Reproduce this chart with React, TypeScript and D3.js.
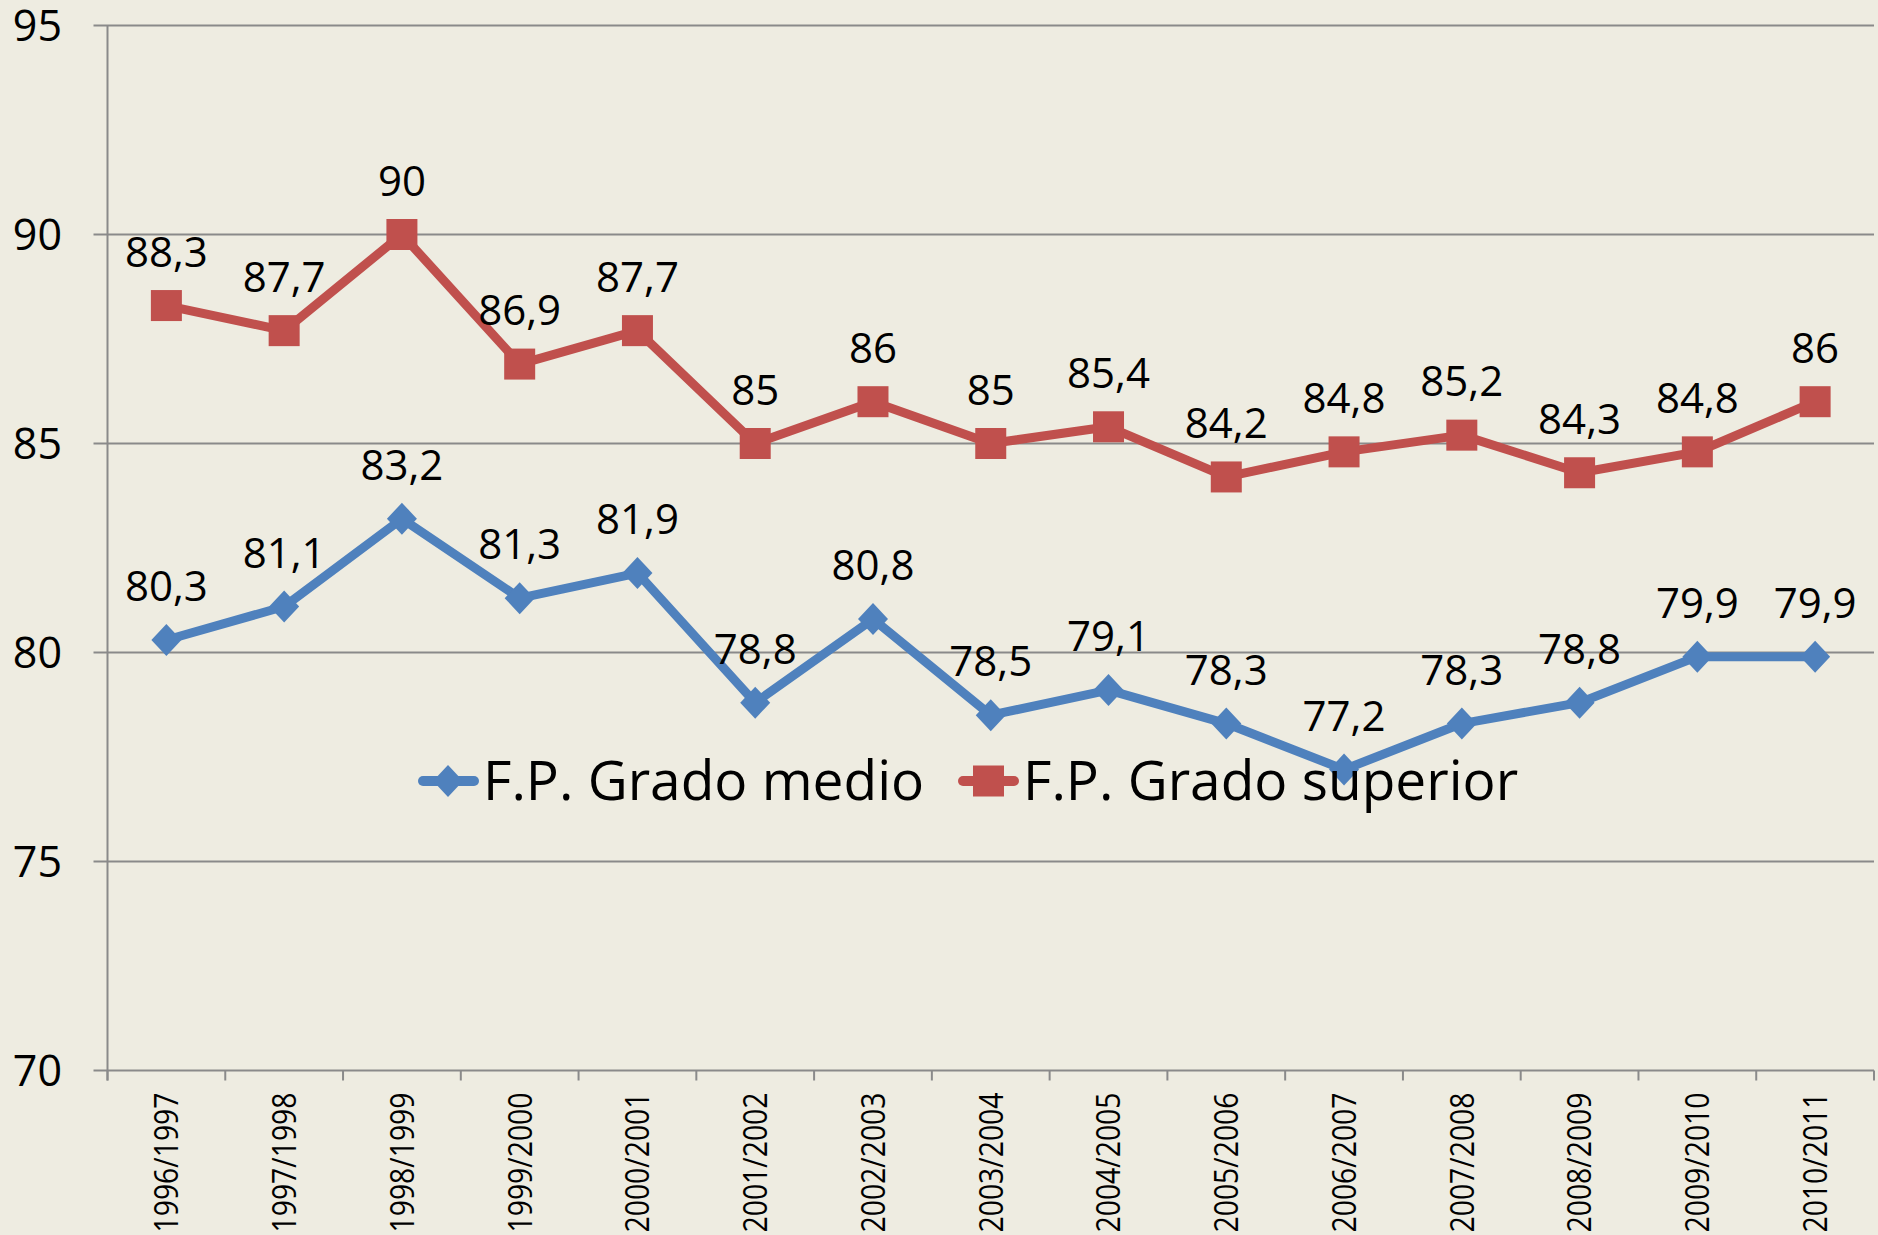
import React, { useEffect, useRef } from 'react';
import * as d3 from 'd3';

const cursos = [
  '1996/1997', '1997/1998', '1998/1999', '1999/2000', '2000/2001',
  '2001/2002', '2002/2003', '2003/2004', '2004/2005', '2005/2006',
  '2006/2007', '2007/2008', '2008/2009', '2009/2010', '2010/2011',
];
const gradoMedio = [80.3, 81.1, 83.2, 81.3, 81.9, 78.8, 80.8, 78.5, 79.1, 78.3, 77.2, 78.3, 78.8, 79.9, 79.9];
const gradoSuperior = [88.3, 87.7, 90, 86.9, 87.7, 85, 86, 85, 85.4, 84.2, 84.8, 85.2, 84.3, 84.8, 86];
const yTicks = [70, 75, 80, 85, 90, 95];
const seriesNames = ['F.P. Grado medio', 'F.P. Grado superior'];

const W = 1878;
const H = 1235;
const BLUE = '#4F81BD';
const RED = '#C0504D';
const GRID = '#8A8A8A';
const FONT = '"Open Sans", sans-serif';

const App = () => {
  const ref = useRef<SVGSVGElement>(null);

  useEffect(() => {
    if (!ref.current) return;
    const svg = d3.select(ref.current);
    svg.selectAll('*').remove();

    const left = 107.5;
    const right = 1874;
    const top = 25.5;
    const bottom = 1070.5;

    svg.append('rect').attr('width', W).attr('height', H).attr('fill', '#EEECE1');

    const x = d3.scaleBand().domain(cursos).range([left, right]).padding(0);
    const cx = (c: string) => (x(c) as number) + x.bandwidth() / 2;
    const y = d3.scaleLinear().domain([70, 95]).range([bottom, top]);

    // rejilla horizontal
    svg.append('g')
      .selectAll('line')
      .data(yTicks)
      .join('line')
      .attr('x1', left - 14)
      .attr('x2', right)
      .attr('y1', d => y(d))
      .attr('y2', d => y(d))
      .attr('stroke', GRID)
      .attr('stroke-width', 2);

    // eje Y
    svg.append('line')
      .attr('x1', left).attr('x2', left)
      .attr('y1', top).attr('y2', bottom + 10)
      .attr('stroke', GRID).attr('stroke-width', 2);

    svg.append('g')
      .selectAll('text')
      .data(yTicks)
      .join('text')
      .attr('x', 62)
      .attr('y', d => y(d))
      .attr('dy', '0.36em')
      .attr('text-anchor', 'end')
      .style('font-family', FONT)
      .style('font-size', '43px')
      .attr('fill', '#000')
      .text(d => d);

    // marcas del eje X
    const edges = cursos.map(c => x(c) as number).concat([right]);
    svg.append('g')
      .selectAll('line')
      .data(edges)
      .join('line')
      .attr('x1', d => d).attr('x2', d => d)
      .attr('y1', bottom).attr('y2', bottom + 10)
      .attr('stroke', GRID).attr('stroke-width', 2);

    svg.append('g')
      .selectAll('text')
      .data(cursos)
      .join('text')
      .attr('transform', d => `translate(${cx(d)}, ${bottom + 22}) rotate(-90)`)
      .attr('dy', '0.36em')
      .attr('text-anchor', 'end')
      .attr('textLength', 140)
      .attr('lengthAdjust', 'spacingAndGlyphs')
      .style('font-family', FONT)
      .style('font-size', '33px')
      .attr('fill', '#000')
      .text(d => d);

    const line = d3.line<number>()
      .x((_, i) => cx(cursos[i]))
      .y(d => y(d));

    const diamond = (px: number, py: number) =>
      `M${px},${py - 16}L${px + 15},${py}L${px},${py + 16}L${px - 15},${py}Z`;

    // serie superior
    svg.append('path')
      .datum(gradoSuperior)
      .attr('fill', 'none')
      .attr('stroke', RED)
      .attr('stroke-width', 9)
      .attr('stroke-linejoin', 'round')
      .attr('d', line);
    svg.append('g')
      .selectAll('rect')
      .data(gradoSuperior)
      .join('rect')
      .attr('x', (_, i) => cx(cursos[i]) - 15.5)
      .attr('y', d => y(d) - 15.5)
      .attr('width', 31)
      .attr('height', 31)
      .attr('fill', RED);

    // serie medio
    svg.append('path')
      .datum(gradoMedio)
      .attr('fill', 'none')
      .attr('stroke', BLUE)
      .attr('stroke-width', 9)
      .attr('stroke-linejoin', 'round')
      .attr('d', line);
    svg.append('g')
      .selectAll('path')
      .data(gradoMedio)
      .join('path')
      .attr('d', (d, i) => diamond(cx(cursos[i]), y(d)))
      .attr('fill', BLUE);

    // etiquetas de datos
    const fmt = (v: number) => String(v).replace('.', ',');
    [gradoSuperior, gradoMedio].forEach(serie => {
      svg.append('g')
        .selectAll('text')
        .data(serie)
        .join('text')
        .attr('x', (_, i) => cx(cursos[i]))
        .attr('y', d => y(d) - 39)
        .attr('text-anchor', 'middle')
        .style('font-family', FONT)
        .style('font-size', '42px')
        .attr('fill', '#000')
        .text(d => fmt(d));
    });

    // leyenda
    const legendY = 781;
    const items = [
      { name: seriesNames[0], color: BLUE, x0: 418, shape: 'diamond' },
      { name: seriesNames[1], color: RED, x0: 958, shape: 'square' },
    ];
    items.forEach(it => {
      const g = svg.append('g');
      g.append('line')
        .attr('x1', it.x0 + 5).attr('x2', it.x0 + 56)
        .attr('y1', legendY).attr('y2', legendY)
        .attr('stroke', it.color)
        .attr('stroke-width', 10)
        .attr('stroke-linecap', 'round');
      if (it.shape === 'diamond') {
        g.append('path').attr('d', diamond(it.x0 + 30, legendY)).attr('fill', it.color);
      } else {
        g.append('rect')
          .attr('x', it.x0 + 15).attr('y', legendY - 15.5)
          .attr('width', 31).attr('height', 31)
          .attr('fill', it.color);
      }
      g.append('text')
        .attr('x', it.x0 + 65)
        .attr('y', 800)
        .style('font-family', FONT)
        .style('font-size', '55px')
        .attr('fill', '#000')
        .text(it.name);
    });
  }, []);

  return (
    <svg
      ref={ref}
      width={W}
      height={H}
      style={{ position: 'absolute', left: 0, top: 0, display: 'block' }}
    />
  );
};

export default App;
